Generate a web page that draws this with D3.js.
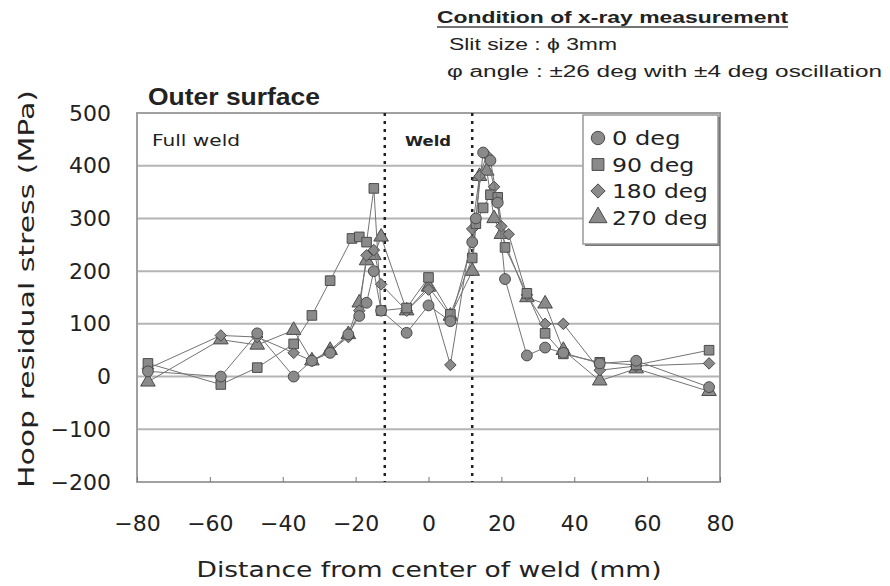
<!DOCTYPE html>
<html>
<head>
<meta charset="utf-8">
<script src="https://cdn.jsdelivr.net/npm/d3@7"></script>
<style>
    body { margin: 0; background: #fff; }
    .chart text { font-family: "DejaVu Sans", sans-serif; fill: #222; }
    .grid line { stroke: #b4b4b4; stroke-width: 2; }
    .series path { fill: none; stroke: #737373; stroke-width: 1; }
    .series path.mark, path.mark { fill: #8a8a8a; stroke: #4a4a4a; stroke-width: 1; }
</style>
</head>
<body>
<svg class="chart"></svg>
<script>
    // tick values
    var xTicks = [-80, -60, -40, -20, 0, 20, 40, 60, 80];
    var yTicks = [-200, -100, 0, 100, 200, 300, 400, 500];
    var weldEdges = [-12, 12];

    var seriesNames = ["0 deg", "90 deg", "180 deg", "270 deg"];
    var seriesSymbols = [d3.symbolCircle, d3.symbolSquare, d3.symbolDiamond2, d3.symbolTriangle];

    // distance (mm), stress (MPa)
    var deg0x   = [-77, -57, -47, -37, -32, -27, -22, -19, -17, -15, -13, -6, 0, 6, 12, 13, 15, 17, 19, 21, 27, 32, 37, 47, 57, 77];
    var deg0y   = [10, 0, 82, 0, 30, 45, 80, 115, 140, 200, 125, 83, 135, 105, 255, 300, 425, 410, 330, 185, 40, 55, 45, 25, 30, -20];
    var deg90x  = [-77, -57, -47, -37, -32, -27, -21, -19, -17, -15, -13, -6, 0, 6, 12, 13, 15, 17, 19, 21, 27, 32, 37, 47, 57, 77];
    var deg90y  = [25, -15, 17, 62, 116, 182, 262, 265, 255, 357, 125, 130, 188, 118, 225, 290, 320, 345, 340, 245, 158, 82, 43, 27, 22, 50];
    var deg180x = [-77, -57, -47, -37, -32, -27, -22, -19, -17, -15, -13, -6, 0, 6, 12, 14, 16, 18, 20, 22, 27, 32, 37, 47, 57, 77];
    var deg180y = [15, 78, 75, 45, 30, 48, 75, 125, 230, 240, 175, 125, 165, 22, 280, 380, 420, 360, 285, 270, 155, 100, 100, 12, 20, 25];
    var deg270x = [-77, -57, -47, -37, -32, -27, -22, -19, -17, -15, -13, -6, 0, 6, 12, 14, 16, 18, 20, 27, 32, 37, 47, 57, 77];
    var deg270y = [-10, 70, 60, 88, 30, 50, 80, 140, 220, 230, 265, 125, 170, 115, 200, 380, 390, 300, 270, 150, 138, 50, -8, 15, -28];

    var seriesX = [deg0x, deg90x, deg180x, deg270x];
    var seriesY = [deg0y, deg90y, deg180y, deg270y];

    var width = 890, height = 586;
    var plotL = 137, plotR = 720, plotT = 113, plotB = 482;

    var x = d3.scaleLinear().domain([-80, 80]).range([plotL, plotR]);
    var y = d3.scaleLinear().domain([-200, 500]).range([plotB, plotT]);

    var chart = d3.select(".chart").attr("width", width).attr("height", height);

    // gridlines
    chart.append("g").attr("class", "grid")
        .selectAll("line").data(yTicks).enter().append("line")
        .attr("x1", plotL).attr("x2", plotR)
        .attr("y1", function (d) { return y(d); })
        .attr("y2", function (d) { return y(d); });

    // frame
    chart.append("rect")
        .attr("x", plotL).attr("y", plotT)
        .attr("width", plotR - plotL).attr("height", plotB - plotT)
        .attr("fill", "none").attr("stroke", "#a0a0a0").attr("stroke-width", 2);

    // Y axis
    var axisY = d3.axisLeft(y).tickValues(yTicks).tickSize(0).tickPadding(26);
    var gy = chart.append("g").attr("transform", "translate(" + plotL + ",0)").call(axisY);
    gy.select(".domain").remove();
    gy.selectAll("text").style("font-size", "22px").attr("fill", "#222");

    // X axis
    var axisX = d3.axisBottom(x).tickValues(xTicks).tickSize(-5).tickPadding(33);
    var gx = chart.append("g").attr("transform", "translate(0," + plotB + ")").call(axisX);
    gx.select(".domain").remove();
    gx.selectAll("line").attr("stroke", "#777");
    gx.selectAll("text").style("font-size", "22px").attr("fill", "#222");

    // weld boundaries
    chart.selectAll(".weld").data(weldEdges).enter().append("line")
        .attr("x1", function (d) { return x(d); }).attr("x2", function (d) { return x(d); })
        .attr("y1", plotT).attr("y2", plotB)
        .attr("stroke", "#222").attr("stroke-width", 2.5).attr("stroke-dasharray", "3,5");

    // series
    var line = d3.line()
        .x(function (d) { return x(d[0]); })
        .y(function (d) { return y(d[1]); });

    for (var s = seriesNames.length - 1; s >= 0; s--) {
        var pts = d3.zip(seriesX[s], seriesY[s]);
        var g = chart.append("g").attr("class", "series");
        g.append("path").datum(pts).attr("d", line);
        g.selectAll(".mark").data(pts).enter().append("path")
            .attr("class", "mark")
            .attr("transform", function (d) { return "translate(" + x(d[0]) + "," + y(d[1]) + ")"; })
            .attr("d", d3.symbol().type(seriesSymbols[s]).size(s == 2 ? 85 : 92));
    }

    // region labels
    chart.append("text").attr("x", 152).attr("y", 146).style("font-size", "16px").attr("fill", "#333")
        .attr("textLength", 88).attr("lengthAdjust", "spacingAndGlyphs").text("Full weld");
    chart.append("text").attr("x", 405).attr("y", 146).style("font-size", "14px").style("font-weight", "bold")
        .attr("textLength", 46).attr("lengthAdjust", "spacingAndGlyphs").text("Weld");

    // legend
    var lgX = 583, lgY = 115, lgW = 135, lgH = 129;
    chart.append("rect").attr("x", lgX + 2).attr("y", lgY + 2).attr("width", lgW).attr("height", lgH).attr("fill", "#777");
    chart.append("rect").attr("x", lgX).attr("y", lgY).attr("width", lgW).attr("height", lgH)
        .attr("fill", "#fff").attr("stroke", "#999").attr("stroke-width", 1.5);
    seriesNames.forEach(function (name, i) {
        var yy = lgY + 23 + i * 26.5;
        chart.append("path").attr("class", "mark")
            .attr("transform", "translate(" + (lgX + 15) + "," + yy + ")")
            .attr("d", d3.symbol().type(seriesSymbols[i]).size(i == 2 ? 130 : 140));
        chart.append("text").attr("x", lgX + 29).attr("y", yy + 7).style("font-size", "19px").attr("fill", "#333")
            .attr("textLength", name.length * 13.7).attr("lengthAdjust", "spacingAndGlyphs").text(name);
    });

    // title
    chart.append("text").attr("x", 148).attr("y", 105)
        .style("font-family", "'Liberation Sans', Arial, sans-serif").style("font-size", "24px").style("font-weight", "bold")
        .attr("textLength", 172).attr("lengthAdjust", "spacingAndGlyphs").text("Outer surface");

    // measurement conditions
    chart.append("text").attr("x", 437).attr("y", 23)
        .style("font-family", "'Liberation Sans', Arial, sans-serif").style("font-size", "16px").style("font-weight", "bold")
        .attr("fill", "#333").attr("textLength", 351).attr("lengthAdjust", "spacingAndGlyphs")
        .text("Condition of x-ray measurement");
    chart.append("line").attr("x1", 437).attr("x2", 788).attr("y1", 27).attr("y2", 27)
        .attr("stroke", "#444").attr("stroke-width", 1.5);
    chart.append("text").attr("x", 449).attr("y", 50)
        .style("font-family", "'Liberation Sans', Arial, sans-serif").style("font-size", "16px")
        .attr("fill", "#333").attr("textLength", 168).attr("lengthAdjust", "spacingAndGlyphs")
        .text("Slit size : \u03d5 3mm");
    chart.append("text").attr("x", 447).attr("y", 77)
        .style("font-family", "'Liberation Sans', Arial, sans-serif").style("font-size", "16px")
        .attr("fill", "#333").attr("textLength", 435).attr("lengthAdjust", "spacingAndGlyphs")
        .text("\u03c6 angle  : \u00b126 deg with \u00b14 deg oscillation");

    // axis titles
    chart.append("text").attr("x", 429).attr("y", 577).attr("text-anchor", "middle")
        .style("font-size", "21px").attr("textLength", 465).attr("lengthAdjust", "spacingAndGlyphs")
        .text("Distance from center of weld (mm)");
    chart.append("text").attr("transform", "translate(34,289) rotate(-90)").attr("text-anchor", "middle")
        .style("font-size", "21px").attr("textLength", 398).attr("lengthAdjust", "spacingAndGlyphs")
        .text("Hoop residual stress (MPa)");
</script>
</body>
</html>
